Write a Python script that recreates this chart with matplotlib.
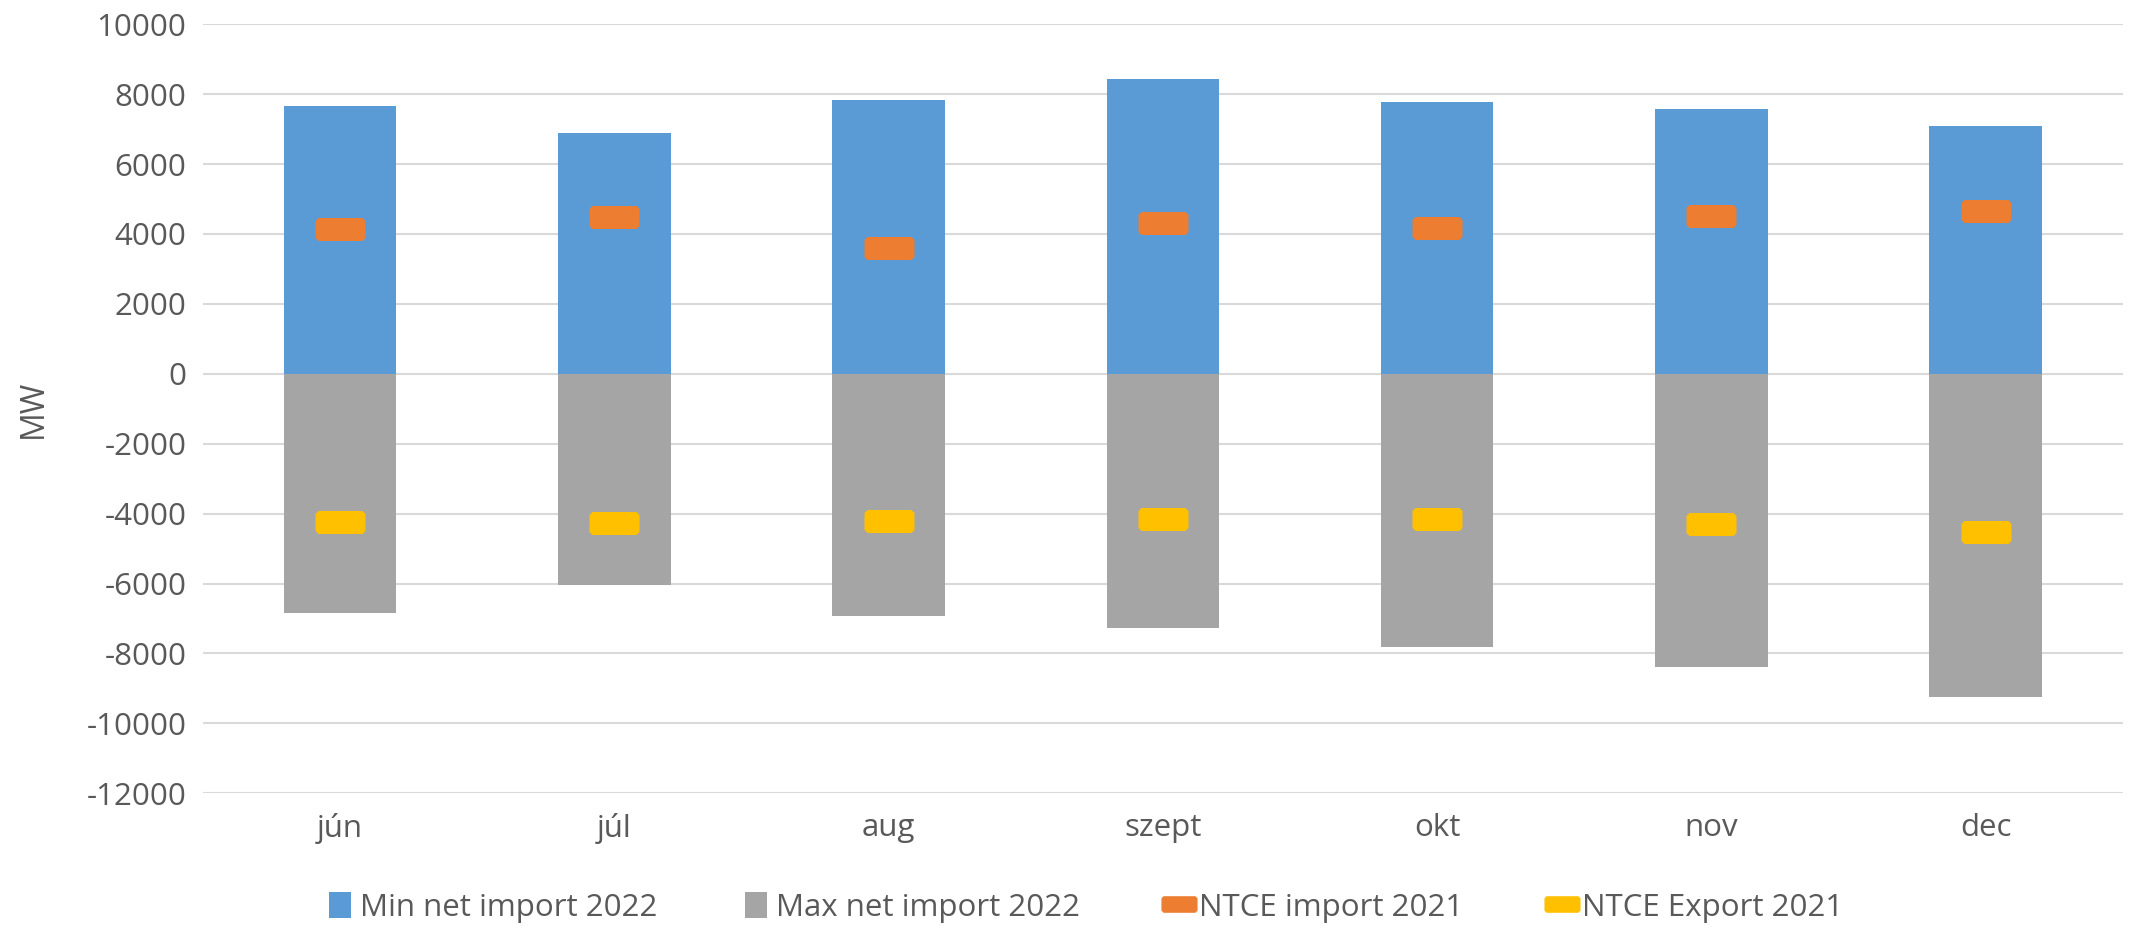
import matplotlib.pyplot as plt
from matplotlib.lines import Line2D
from matplotlib.patches import Patch

plt.rcParams['font.family'] = ['Open Sans', 'DejaVu Sans']
plt.rcParams['axes.unicode_minus'] = False

# Data (MW)
months = ["jún", "júl", "aug", "szept", "okt", "nov", "dec"]
min_import_2022 = [7670, 6900, 7840, 8430, 7770, 7570, 7100]
max_import_2022 = [-6850, -6050, -6920, -7270, -7810, -8390, -9250]
ntce_import_2021 = [4140, 4490, 3590, 4320, 4170, 4510, 4670]
ntce_export_2021 = [-4240, -4280, -4210, -4140, -4140, -4290, -4540]

blue = "#5b9bd5"
gray = "#a5a5a5"
orange = "#ed7d31"
yellow = "#ffc000"
text_col = "#595959"

# rounded-rectangle marker, roughly 50x22 px
r = 0.12
box = [(-1 + r, -0.46), (1 - r, -0.46), (1, -0.46 + r), (1, 0.46 - r),
       (1 - r, 0.46), (-1 + r, 0.46), (-1, 0.46 - r), (-1, -0.46 + r)]

fig = plt.figure(figsize=(21.55, 9.3), dpi=100)
ax = fig.add_axes([0.0942, 0.147, 0.8908, 0.827])

x = list(range(len(months)))
ax.bar(x, min_import_2022, width=0.41, color=blue, zorder=2)
ax.bar(x, max_import_2022, width=0.41, color=gray, zorder=2)
ax.plot(x, ntce_import_2021, linestyle="none", marker=box, markersize=36,
        color=orange, markeredgewidth=0, zorder=3)
ax.plot(x, ntce_export_2021, linestyle="none", marker=box, markersize=36,
        color=yellow, markeredgewidth=0, zorder=3)

ax.set_ylim(-12000, 10000)
ax.set_yticks(range(-12000, 10001, 2000))
ax.set_xlim(-0.5, len(months) - 0.5)
ax.set_xticks(x)
ax.set_xticklabels(months)
ax.yaxis.grid(True, color="#d9d9d9", linewidth=1.5, zorder=0)
ax.set_axisbelow(True)
for s in ax.spines.values():
    s.set_visible(False)
ax.tick_params(length=0, labelsize=22.5, labelcolor=text_col)
ax.tick_params(axis="x", pad=14)
ax.tick_params(axis="y", pad=12)
ax.set_ylabel("MW", fontsize=23, color=text_col, labelpad=26)

handles = [
    Patch(facecolor=blue, label="Min net import 2022"),
    Patch(facecolor=gray, label="Max net import 2022"),
    Line2D([], [], linestyle="none", marker=box, markersize=26, color=orange,
           markeredgewidth=0, label="NTCE import 2021"),
    Line2D([], [], linestyle="none", marker=box, markersize=26, color=yellow,
           markeredgewidth=0, label="NTCE Export 2021"),
]
fig.legend(handles=handles, loc="center", bbox_to_anchor=(0.504, 0.024), ncol=4,
           frameon=False, fontsize=22.5, labelcolor=text_col, handlelength=0.7,
           handleheight=0.9, handletextpad=0.3, columnspacing=2.8)

fig.savefig("out.png", dpi=100)
